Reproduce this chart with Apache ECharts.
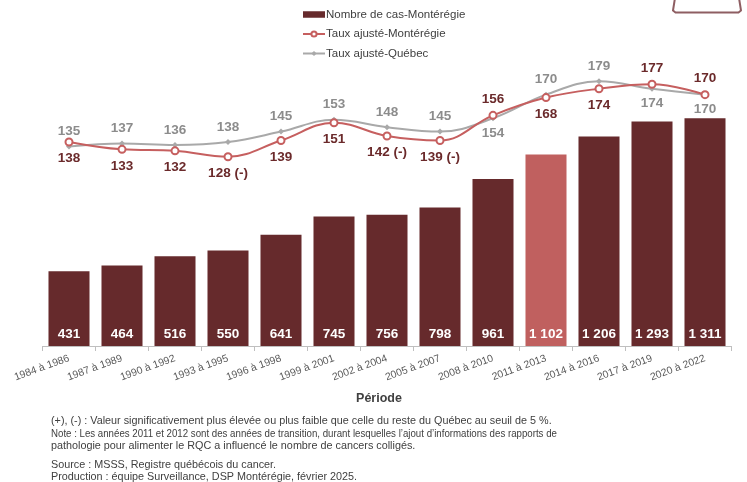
<!DOCTYPE html>
<html lang="fr">
<head>
<meta charset="utf-8">
<script src="https://cdn.jsdelivr.net/npm/echarts@6/dist/echarts.min.js"></script>
<style>
  html, body { margin: 0; padding: 0; background: #ffffff; }
  #chart { width: 747px; height: 482px; }
</style>
</head>
<body>
<div id="chart"></div>
<script>
// Périodes de trois ans
const periodes = [
  '1984 à 1986', '1987 à 1989', '1990 à 1992', '1993 à 1995', '1996 à 1998',
  '1999 à 2001', '2002 à 2004', '2005 à 2007', '2008 à 2010', '2011 à 2013',
  '2014 à 2016', '2017 à 2019', '2020 à 2022'
];
// Nombre de cas en Montérégie
const nombreCas = [431, 464, 516, 550, 641, 745, 756, 798, 961, 1102, 1206, 1293, 1311];
// Taux ajustés (pour 100 000)
const tauxMonteregie = [138, 133, 132, 128, 139, 151, 142, 139, 156, 168, 174, 177, 170];
const tauxQuebec = [135, 137, 136, 138, 145, 153, 148, 145, 154, 170, 179, 174, 170];
// Écart significatif avec le reste du Québec
const signifMonteregie = ['', '', '', '(-)', '', '', '(-)', '(-)', '', '', '', '', ''];
// Période de transition (2011 et 2012)
const periodeTransition = '2011 à 2013';

// Étiquettes placées au-dessus (Montérégie) ou au-dessous (Québec) du point
const monteregieEnHaut = [8, 11, 12];
const quebecEnBas = [8, 11, 12];

// Notes de bas de graphique
const notes = [
  '(+), (-) : Valeur significativement plus élevée ou plus faible que celle du reste du Québec au seuil de 5 %.',
  'Note : Les années 2011 et 2012 sont des années de transition, durant lesquelles l\u2019ajout d\u2019informations des rapports de',
  'pathologie pour alimenter le RQC a influencé le nombre de cancers colligés.',
  'Source : MSSS, Registre québécois du cancer.',
  'Production : équipe Surveillance, DSP Montérégie, février 2025.'
];

const rouge = '#c65f5f';
const bordeaux = '#662a2c';
const gris = '#a9a9a9';

function milliers(v) {
  return String(v).replace(/\B(?=(\d{3})+(?!\d))/g, '\u00a0');
}

const chart = echarts.init(document.getElementById('chart'), null, { renderer: 'canvas' });

const noteStyle = { fontSize: 10.8, fill: '#404040', fontFamily: 'Liberation Sans', verticalAlign: 'top' };
// Ligne de note : position verticale et compression horizontale
const noteLignes = [
  { y: 415.5, sx: 1 },
  { y: 428.5, sx: 0.897 },
  { y: 441, sx: 1 },
  { y: 459.5, sx: 1 },
  { y: 472, sx: 1 }
];

const option = {
  animation: false,
  backgroundColor: '#ffffff',
  textStyle: { fontFamily: 'Liberation Sans, Arial, sans-serif' },
  grid: {
    left: 42.5, right: 15.5, top: 0, bottom: 136,
    containLabel: false
  },
  legend: {
    orient: 'vertical',
    left: 297,
    top: 2.5,
    itemWidth: 22,
    itemHeight: 6.5,
    itemGap: 5.5,
    selectedMode: false,
    textStyle: { fontSize: 11.5, color: '#404040', lineHeight: 14, padding: [0, 0, 0, -4] },
    data: [
      { name: 'Nombre de cas-Montérégie', icon: 'rect', itemStyle: { color: bordeaux } },
      { name: 'Taux ajusté-Montérégie' },
      { name: 'Taux ajusté-Québec' }
    ]
  },
  xAxis: {
    type: 'category',
    data: periodes,
    name: 'Période',
    nameLocation: 'middle',
    nameGap: 46,
    nameTextStyle: { fontSize: 12.5, fontWeight: 'bold', color: '#404040', padding: [0, 16, 0, 0] },
    axisLine: { show: true, lineStyle: { color: '#bfbfbf', width: 1 } },
    axisTick: { show: true, length: 5, lineStyle: { color: '#bfbfbf' } },
    axisLabel: { interval: 0, rotate: 20, margin: 12, fontSize: 10.4, color: '#595959' },
    splitLine: { show: false }
  },
  yAxis: [
    { type: 'value', min: 0, max: 1992, show: false, splitLine: { show: false } },
    { type: 'value', min: 0, max: 234, show: false, splitLine: { show: false } }
  ],
  series: [
    {
      name: 'Nombre de cas-Montérégie',
      type: 'bar',
      yAxisIndex: 0,
      barCategoryGap: '22.6%',
      data: nombreCas.map((v, i) => ({
        value: v,
        itemStyle: { color: periodes[i] === periodeTransition ? '#c0605f' : bordeaux }
      })),
      label: {
        show: true,
        position: 'insideBottom',
        distance: 5,
        color: '#ffffff',
        fontWeight: 'bold',
        fontSize: 13.5,
        formatter: p => milliers(p.value)
      },
      z: 1
    },
    {
      name: 'Taux ajusté-Québec',
      type: 'line',
      yAxisIndex: 1,
      smooth: 0.4,
      symbol: 'diamond',
      symbolSize: 6,
      itemStyle: { color: gris },
      lineStyle: { color: gris, width: 2 },
      data: tauxQuebec.map((v, i) => ({
        value: v,
        label: { position: quebecEnBas.includes(i) ? 'bottom' : 'top' }
      })),
      label: {
        show: true,
        distance: 5,
        color: '#8c8c8c',
        fontWeight: 'bold',
        fontSize: 13.5
      },
      z: 3
    },
    {
      name: 'Taux ajusté-Montérégie',
      type: 'line',
      yAxisIndex: 1,
      smooth: 0.4,
      symbol: 'emptyCircle',
      symbolSize: 7,
      itemStyle: { color: rouge, borderWidth: 1.5 },
      lineStyle: { color: rouge, width: 2 },
      data: tauxMonteregie.map((v, i) => ({
        value: v,
        label: { position: monteregieEnHaut.includes(i) ? 'top' : 'bottom' }
      })),
      label: {
        show: true,
        distance: 5,
        color: '#6b2a2b',
        fontWeight: 'bold',
        fontSize: 13.5,
        formatter: p => signifMonteregie[p.dataIndex] ? p.value + ' ' + signifMonteregie[p.dataIndex] : String(p.value)
      },
      z: 4
    }
  ],
  graphic: [
    // Onglet décoratif dans le coin supérieur droit
    {
      type: 'polyline',
      shape: { points: [[675, -2], [673, 10.5], [675.5, 12.5], [738.5, 12.5], [741, 10.5], [739, -2]] },
      style: { fill: 'none', stroke: '#8e5e62', lineWidth: 2, lineJoin: 'round' }
    }
  ].concat(notes.map((t, i) => ({
    type: 'text',
    x: 51,
    y: noteLignes[i].y,
    scaleX: noteLignes[i].sx,
    style: Object.assign({ text: t }, noteStyle)
  })))
};

chart.setOption(option);
</script>
</body>
</html>
